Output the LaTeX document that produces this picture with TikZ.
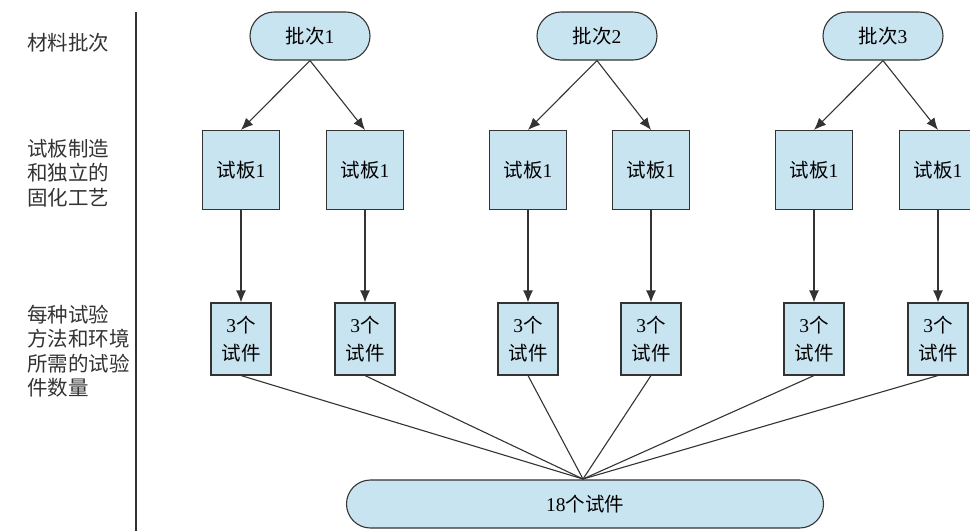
\documentclass[tikz,border=0pt]{standalone}
\usepackage{fontspec}
\setmainfont{Liberation Serif}
\newfontfamily\cjk{Noto Sans CJK SC}
\usetikzlibrary{arrows.meta}
\definecolor{boxfill}{HTML}{C9E4F1}
\definecolor{ink}{HTML}{333333}
\newcommand\rmd[1]{{\rmfamily #1}}
\tikzset{
  base/.style={draw=ink, fill=boxfill, line width=1.1pt, font=\cjk\fontsize{19.5}{23}\selectfont, inner sep=0pt, align=center},
  batch/.style={base, minimum width=120pt, minimum height=48pt, rounded corners=24pt},
  plate/.style={base, minimum width=77pt, minimum height=79pt},
  spec/.style={base, minimum width=60pt, minimum height=72pt, font=\cjk\fontsize{19.5}{28}\selectfont},
  total/.style={base, minimum width=477pt, minimum height=48pt, rounded corners=24pt},
  arr/.style={draw=ink, line width=1.1pt, -{Latex[length=12pt,width=10pt]}},
  conn/.style={draw=ink, line width=1.1pt},
  lab/.style={font=\cjk\fontsize{20.5}{24.5}\selectfont, text=ink, align=left, anchor=west, inner sep=0pt}
}
\begin{document}
\begin{tikzpicture}[x=1pt,y=-1pt]
\useasboundingbox (0,0) rectangle (970,531);
\clip (0,0) rectangle (970,531);
% left labels
\node[lab] (l1) at (27,43) {材料批次};
\node[lab] (l2) at (27,173) {试板制造\\和独立的\\固化工艺};
\node[lab] (l3) at (27,351) {每种试验\\方法和环境\\所需的试验\\件数量};
\draw[conn] (136,12) coordinate (vt) -- (136,531) coordinate (vb);
% batches
\node[batch] (b1) at (310,36) {批次\rmd{1}};
\node[batch] (b2) at (597,36) {批次\rmd{2}};
\node[batch] (b3) at (883,36) {批次\rmd{3}};
% plates
\node[plate] (p1) at (241,170) {试板\rmd{1}};
\node[plate] (p2) at (365,170) {试板\rmd{1}};
\node[plate] (p3) at (528,170) {试板\rmd{1}};
\node[plate] (p4) at (651,170) {试板\rmd{1}};
\node[plate] (p5) at (814,170) {试板\rmd{1}};
\node[plate] (p6) at (938,170) {试板\rmd{1}};
% specimens
\foreach \i/\x in {1/241,2/365,3/528,4/651,5/814,6/938}{
  \node[spec] (s\i) at (\x,339) {\rmd{3}个\\试件};
}
% total
\node[total] (t) at (585,504) {\rmd{18}个试件};
\coordinate (c) at (583,479);
% arrows
\draw[arr] (b1.south) -- (p1.north);
\draw[arr] (b1.south) -- (p2.north);
\draw[arr] (b2.south) -- (p3.north);
\draw[arr] (b2.south) -- (p4.north);
\draw[arr] (b3.south) -- (p5.north);
\draw[arr] (b3.south) -- (p6.north);
\foreach \i in {1,...,6}{
  \draw[arr] (p\i.south) -- (s\i.north);
  \draw[conn] (s\i.south) -- (c);
}
\end{tikzpicture}
\end{document}
